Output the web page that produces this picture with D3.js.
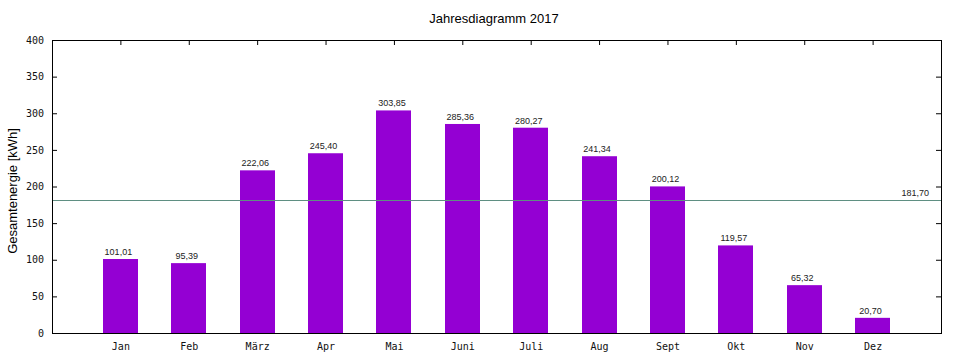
<!DOCTYPE html>
<html><head><meta charset="utf-8">
<script src="https://cdn.jsdelivr.net/npm/d3@7"></script>
<style>body{margin:0;background:#fff}svg{display:block}</style>
</head><body>
<script>
const months = ["Jan","Feb","März","Apr","Mai","Juni","Juli","Aug","Sept","Okt","Nov","Dez"];
const values = [101.01,95.39,222.06,245.40,303.85,285.36,280.27,241.34,200.12,119.57,65.32,20.70];
const average = 181.70;
const yTicks = [0,50,100,150,200,250,300,350,400];
const fmt = v => v.toFixed(2).replace(".", ",");

const W=960,H=360, L=52, R=941, T=40, B=333;
const svg=d3.select("body").append("svg").attr("width",W).attr("height",H);
const x=d3.scaleLinear().domain([0,13]).range([L,R]);
const y=d3.scaleLinear().domain([0,400]).range([B,T]);
const bw = x(0.51)-x(0);

svg.append("g").selectAll("rect").data(values).join("rect")
  .attr("x",(d,i)=>Math.round(x(i+1)-bw/2)).attr("width",Math.round(bw))
  .attr("y",d=>y(d)).attr("height",d=>B-y(d)).attr("fill","#9400d3");

svg.append("g").selectAll("text").data(values).join("text")
  .attr("x",(d,i)=>x(i+1)-2).attr("y",d=>y(d)-4)
  .attr("text-anchor","middle").attr("font-family","Liberation Sans, Arial, sans-serif")
  .attr("font-size",9).attr("fill","#222").text(d=>fmt(d));

svg.append("line").attr("x1",L).attr("x2",R).attr("y1",Math.round(y(average))+0.5).attr("y2",Math.round(y(average))+0.5)
  .attr("stroke","#5f8f82").attr("stroke-width",1);
svg.append("text").attr("x",929).attr("y",y(average)-4).attr("text-anchor","end")
  .attr("font-family","Liberation Sans, Arial, sans-serif").attr("font-size",9).attr("fill","#222").text(fmt(average));

// axes
const yl=d3.axisLeft(y).tickValues(yTicks).tickSize(-5).tickPadding(8).tickFormat(d3.format("d"));
const yr=d3.axisRight(y).tickValues(yTicks).tickSize(-5).tickFormat("");
const xb=d3.axisBottom(x).tickValues(d3.range(1,13)).tickSize(0).tickPadding(10).tickFormat(d=>months[d-1]);
const xt=d3.axisTop(x).tickValues(d3.range(1,13)).tickSize(-5).tickFormat("");
function style(g){g.selectAll("path").remove();g.selectAll("line").attr("stroke","#000");
  g.selectAll("text").attr("font-family","DejaVu Sans Mono, monospace").attr("font-size",10).attr("fill","#111");}
svg.append("g").attr("transform",`translate(${L},0)`).call(yl).call(style);
svg.append("g").attr("transform",`translate(${R},0)`).call(yr).call(style);
svg.append("g").attr("transform",`translate(0,${B})`).call(xb).call(style);
svg.append("g").attr("transform",`translate(0,${T})`).call(xt).call(style);

svg.append("rect").attr("x",L+0.5).attr("y",T+0.5).attr("width",R-L).attr("height",B-T)
  .attr("fill","none").attr("stroke","#000").attr("stroke-width",1);

svg.append("text").attr("x",494).attr("y",23).attr("text-anchor","middle")
  .attr("font-family","Liberation Sans, Arial, sans-serif").attr("font-size",13).attr("fill","#000").text("Jahresdiagramm 2017");
svg.append("text").attr("transform","translate(17,191) rotate(-90)").attr("text-anchor","middle")
  .attr("font-family","Liberation Sans, Arial, sans-serif").attr("font-size",13).attr("fill","#000").text("Gesamtenergie [kWh]");
</script>
</body></html>
